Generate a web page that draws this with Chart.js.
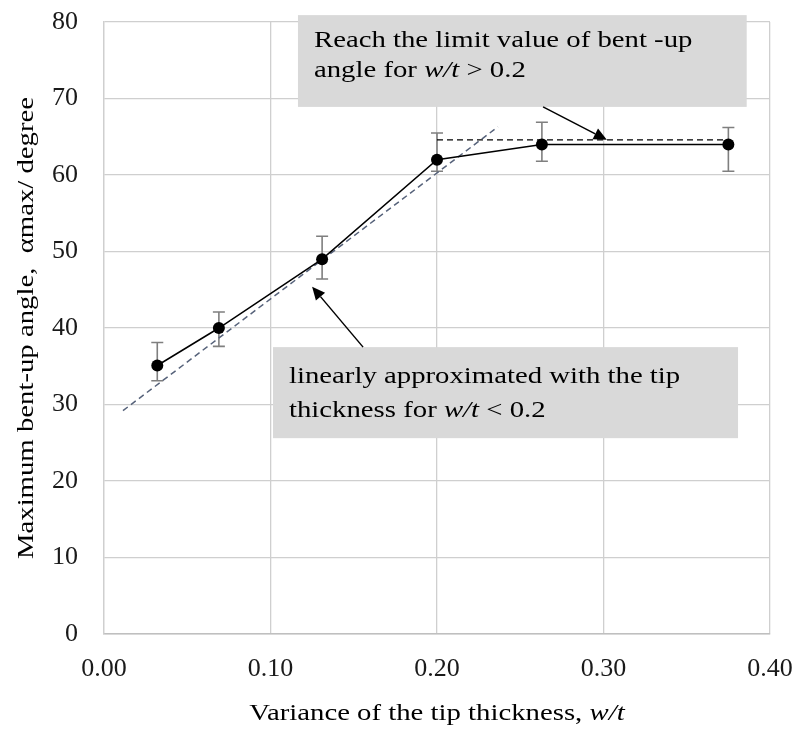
<!DOCTYPE html>
<html>
<head>
<meta charset="utf-8">
<title>Maximum bent-up angle vs tip thickness</title>
<script src="https://cdn.jsdelivr.net/npm/chart.js"></script>
<style>
  html, body { margin: 0; padding: 0; background: #fff; }
  #wrap { width: 800px; height: 735px; }
</style>
</head>
<body>
<div id="wrap"><canvas id="bentChart" width="800" height="735"></canvas></div>
<script>
// measured points: tip thickness ratio w/t vs max bent-up angle
const ratioX = [0.032, 0.069, 0.131, 0.200, 0.263, 0.375];
const angleY = [35.1, 40.0, 49.0, 62.0, 64.0, 64.0];
const errHigh = [38.1, 42.1, 52.0, 65.5, 66.9, 66.2];
const errLow = [33.1, 37.6, 46.4, 60.5, 61.8, 60.5];

// linear approximation for w/t < 0.2
const fitX = [0.0114, 0.2366];
const fitY = [29.2, 66.3];

// limit value for w/t > 0.2
const limitX = [0.200, 0.375];
const limitY = [64.6, 64.6];

const xTicks = [0, 0.1, 0.2, 0.3, 0.4];
const yTicks = [0, 10, 20, 30, 40, 50, 60, 70, 80];

const SERIF = '"Liberation Serif", "Times New Roman", serif';
const TEXT_SIZE = 23;
const TEXT_STRETCH = 1.25;

// draw a run of text pieces (some italic) stretched horizontally
function drawRich(ctx, parts, x, y, align) {
    ctx.save();
    ctx.translate(x, y);
    ctx.scale(TEXT_STRETCH, 1);
    let total = 0;
    parts.forEach(p => {
        ctx.font = (p.italic ? 'italic ' : '') + TEXT_SIZE + 'px ' + SERIF;
        total += ctx.measureText(p.text).width;
    });
    let cx = align === 'center' ? -total / 2 : 0;
    ctx.textBaseline = 'alphabetic';
    ctx.textAlign = 'left';
    parts.forEach(p => {
        ctx.font = (p.italic ? 'italic ' : '') + TEXT_SIZE + 'px ' + SERIF;
        ctx.fillText(p.text, cx, 0);
        cx += ctx.measureText(p.text).width;
    });
    ctx.restore();
}

function drawArrow(ctx, x1, y1, x2, y2) {
    const ang = Math.atan2(y2 - y1, x2 - x1);
    const head = 13, half = 6;
    const bx = x2 - head * Math.cos(ang), by = y2 - head * Math.sin(ang);
    ctx.save();
    ctx.strokeStyle = '#000';
    ctx.fillStyle = '#000';
    ctx.lineWidth = 1.5;
    ctx.beginPath();
    ctx.moveTo(x1, y1);
    ctx.lineTo(bx, by);
    ctx.stroke();
    ctx.beginPath();
    ctx.moveTo(x2, y2);
    ctx.lineTo(bx + half * Math.sin(ang), by - half * Math.cos(ang));
    ctx.lineTo(bx - half * Math.sin(ang), by + half * Math.cos(ang));
    ctx.closePath();
    ctx.fill();
    ctx.restore();
}

// gray callout boxes, anchored in data units
const notes = [
    {
        x0: 0.1165, x1: 0.386, yTop: 80.9, yBottom: 68.9,
        lines: [
            [{ text: 'Reach the limit value of bent -up' }],
            [{ text: 'angle for ' }, { text: 'w/t', italic: true }, { text: ' > 0.2' }]
        ],
        firstBase: 32, lineGap: 30,
        arrowFrom: [0.2637, 68.9], arrowTo: [0.302, 64.6]
    },
    {
        x0: 0.1015, x1: 0.3808, yTop: 37.5, yBottom: 25.6,
        lines: [
            [{ text: 'linearly approximated with the tip' }],
            [{ text: 'thickness for ' }, { text: 'w/t', italic: true }, { text: ' < 0.2' }]
        ],
        firstBase: 36, lineGap: 34,
        arrowFrom: [0.1556, 37.5], arrowTo: [0.125, 45.4]
    }
];

const errorBarPlugin = {
    id: 'errorBars',
    beforeDatasetsDraw(chart) {
        const { ctx, scales: { x, y } } = chart;
        ctx.save();
        ctx.strokeStyle = '#7f7f7f';
        ctx.lineWidth = 1.6;
        ratioX.forEach((v, i) => {
            const px = x.getPixelForValue(v);
            const top = y.getPixelForValue(errHigh[i]);
            const bot = y.getPixelForValue(errLow[i]);
            ctx.beginPath();
            ctx.moveTo(px, top); ctx.lineTo(px, bot);
            ctx.moveTo(px - 6, top); ctx.lineTo(px + 6, top);
            ctx.moveTo(px - 6, bot); ctx.lineTo(px + 6, bot);
            ctx.stroke();
        });
        ctx.restore();
    }
};

const notesPlugin = {
    id: 'notes',
    afterDatasetsDraw(chart) {
        const { ctx, scales: { x, y } } = chart;
        notes.forEach(n => {
            const left = x.getPixelForValue(n.x0);
            const right = x.getPixelForValue(n.x1);
            const top = y.getPixelForValue(n.yTop);
            const bottom = y.getPixelForValue(n.yBottom);
            ctx.save();
            ctx.fillStyle = '#d9d9d9';
            ctx.fillRect(left, top, right - left, bottom - top);
            ctx.fillStyle = '#000';
            n.lines.forEach((parts, i) => {
                drawRich(ctx, parts, left + 16, top + n.firstBase + i * n.lineGap, 'left');
            });
            ctx.restore();
            drawArrow(ctx,
                x.getPixelForValue(n.arrowFrom[0]), y.getPixelForValue(n.arrowFrom[1]),
                x.getPixelForValue(n.arrowTo[0]), y.getPixelForValue(n.arrowTo[1]));
        });
    },
    afterDraw(chart) {
        const { ctx, chartArea } = chart;
        ctx.save();
        ctx.fillStyle = '#000';
        // x axis title
        drawRich(ctx, [
            { text: 'Variance of the tip thickness, ' },
            { text: 'w/t', italic: true }
        ], (chartArea.left + chartArea.right) / 2, 720, 'center');
        // y axis title, rotated
        ctx.translate(33, (chartArea.top + chartArea.bottom) / 2);
        ctx.rotate(-Math.PI / 2);
        drawRich(ctx, [{ text: 'Maximum bent-up angle,  \u03b1max/ degree' }], 0, 0, 'center');
        ctx.restore();
    }
};

const ctx = document.getElementById('bentChart').getContext('2d');
new Chart(ctx, {
    type: 'scatter',
    data: {
        datasets: [
            {
                label: 'measured',
                data: ratioX.map((v, i) => ({ x: v, y: angleY[i] })),
                showLine: true,
                borderColor: '#000',
                borderWidth: 1.5,
                pointRadius: 6,
                pointBackgroundColor: '#000',
                pointBorderColor: '#000',
                pointBorderWidth: 0
            },
            {
                label: 'linear approx',
                data: fitX.map((v, i) => ({ x: v, y: fitY[i] })),
                showLine: true,
                borderColor: '#56627a',
                borderWidth: 1.5,
                borderDash: [6, 4],
                pointRadius: 0
            },
            {
                label: 'limit',
                data: limitX.map((v, i) => ({ x: v, y: limitY[i] })),
                showLine: true,
                borderColor: '#000',
                borderWidth: 1.2,
                borderDash: [6, 4],
                pointRadius: 0
            }
        ]
    },
    options: {
        responsive: false,
        animation: false,
        layout: { padding: { top: 22, right: 30, left: 0, bottom: 0 } },
        plugins: {
            legend: { display: false },
            tooltip: { enabled: false }
        },
        scales: {
            x: {
                type: 'linear',
                min: 0, max: 0.4,
                afterBuildTicks(scale) { scale.ticks = xTicks.map(v => ({ value: v })); },
                afterFit(scale) {
                    scale.height = 101;
                    scale.paddingLeft = 0;
                    scale.paddingRight = 0;
                },
                ticks: {
                    color: '#1a1a1a',
                    padding: 20,
                    maxRotation: 0,
                    font: { family: SERIF, size: 26 },
                    callback: v => Number(v).toFixed(2)
                },
                grid: { color: '#cfcfcf', lineWidth: 1.3, drawTicks: false },
                border: { color: '#bfbfbf', width: 1.5 }
            },
            y: {
                type: 'linear',
                min: 0, max: 80,
                afterBuildTicks(scale) { scale.ticks = yTicks.map(v => ({ value: v })); },
                afterFit(scale) {
                    scale.width = 104;
                    scale.paddingTop = 0;
                    scale.paddingBottom = 0;
                },
                ticks: {
                    color: '#1a1a1a',
                    padding: 26,
                    font: { family: SERIF, size: 26 }
                },
                grid: { color: '#cfcfcf', lineWidth: 1.3, drawTicks: false },
                border: { color: '#cfcfcf', width: 1.3 }
            }
        }
    },
    plugins: [errorBarPlugin, notesPlugin]
});
</script>
</body>
</html>
